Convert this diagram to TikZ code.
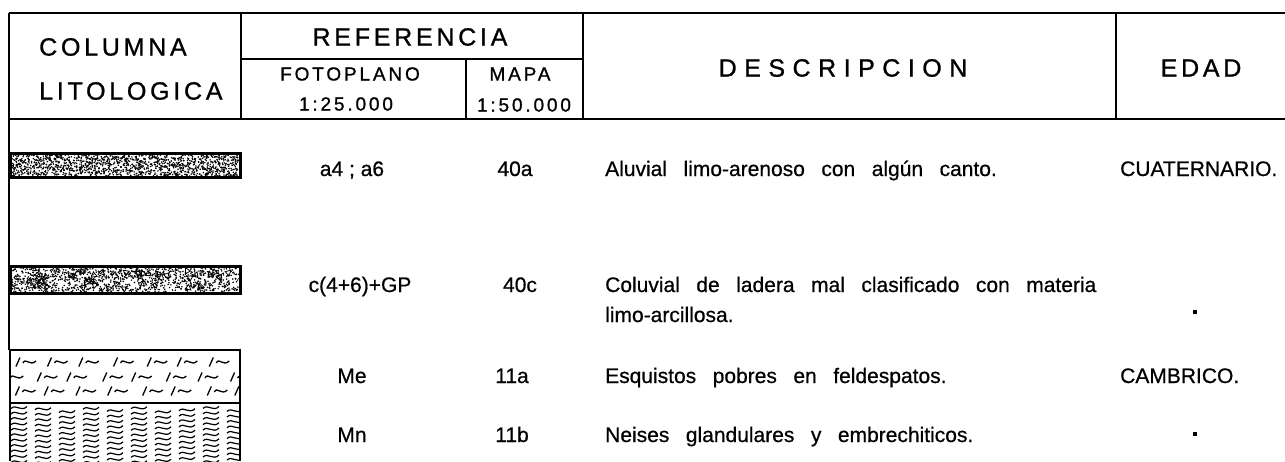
\documentclass[tikz,border=0pt]{standalone}
\usepackage{fontspec}
\setmainfont{Liberation Sans}[FakeBold=0.6]
\newfontfamily\espaciada{Liberation Sans}[LetterSpace=15,FakeBold=1]
\newfontfamily\ancha{Liberation Sans}[LetterSpace=30,FakeBold=1]
\usepackage{tikz}
\newcommand{\palabras}{\spaceskip 16.5pt plus 2pt\relax}
\tikzset{
  marco/.style={line width=2.6pt},
  divisor/.style={line width=2.2pt},
  borde/.style={line width=1.2pt},
  titulo/.style={font=\fontsize{25}{28}\selectfont\espaciada,inner sep=0pt},
  subtitulo/.style={font=\fontsize{19}{22}\selectfont\espaciada,inner sep=0pt},
  codigo/.style={font=\fontsize{21}{30}\selectfont,inner sep=0pt},
  dato/.style={font=\fontsize{21}{30}\selectfont\palabras,inner sep=0pt},
  punto/.style={fill,minimum size=4pt,inner sep=0pt}
}
\newcommand{\arena}[5]{  \foreach \k in {1,...,#5} {    \pgfmathsetmacro{\px}{#1+rnd*(#3-#1)}    \pgfmathsetmacro{\py}{#2+rnd*(#4-#2)}    \fill (\px,\py) circle (0.85pt);  }}
\newcommand{\cantos}[5]{  \foreach \k in {1,...,#5} {    \pgfmathsetmacro{\px}{#1+rnd*(#3-#1)}    \pgfmathsetmacro{\py}{#2+rnd*(#4-#2)}    \pgfmathsetmacro{\giro}{360*rnd}    \draw[line width=0.8pt,rotate around={\giro:(\px,\py)}] (\px-3,\py+2)--(\px+3,\py+2)--(\px,\py-3)--cycle;  }}
\newcommand{\esquisto}[2]{  \draw (#1,#2+4.5)--(#1+4,#2-4.5);  \draw (#1+7,#2+1) .. controls (#1+10,#2-5) and (#1+14,#2+5) .. (#1+20,#2-1);}

\begin{document}
\begin{tikzpicture}[x=1pt,y=-1pt]
  \pgfmathsetseed{11}
  \fill[white] (0,0) rectangle (1285,461);
  \useasboundingbox (0,0) rectangle (1285,461);

  % cabecera
  \draw[marco] (9,13)--(1285,13) (9,119)--(1285,119) (241,59)--(583,59);
  \draw[divisor] (9,13)--(9,119) (241,13)--(241,119) (466,59)--(466,119)
    (583,13)--(583,119) (1116,13)--(1116,119);
  \draw[borde] (9,119)--(9,350);

  \node[titulo,anchor=west] (columna) at (39,47) {COLUMNA};
  \node[titulo,anchor=west] (litologica) at (39,91) {LITOLOGICA};
  \node[titulo] (referencia) at (410,37) {REFERENCIA};
  \node[subtitulo] (fotoplano) at (350,74) {FOTOPLANO};
  \node[subtitulo] (escala1) at (346,104) {1:25.000};
  \node[subtitulo] (mapa) at (520,74) {MAPA};
  \node[subtitulo] (escala2) at (524,105) {1:50.000};
  \node[titulo,font=\fontsize{25}{28}\selectfont\ancha] (descripcion) at (843,68) {DESCRIPCION};
  \node[titulo] (edad) at (1201,68) {EDAD};

  % columna litologica
  \begin{scope}
    \fill[white] (10,153) rectangle (240,177);
    \arena{11}{154}{239}{176}{1500}
    \draw[marco,line width=3pt] (10,153) rectangle (240,177);
  \end{scope}

  \begin{scope}
    \fill[white] (10,266) rectangle (240,293);
    \arena{11}{267}{239}{292}{1100}
    \cantos{14}{270}{236}{289}{45}
    \draw[marco,line width=3pt] (10,266) rectangle (240,293);
  \end{scope}

  \begin{scope}[line width=1.3pt]
    \clip (10,350) rectangle (240,403);
    \foreach \fila/\desfase in {362/14,377/2,391/10} {
      \foreach \i in {0,...,7} {
        \pgfmathsetmacro{\xe}{\desfase+\i*32+rnd*6}
        \esquisto{\xe}{\fila}
      }
    }
  \end{scope}
  \draw[marco] (10,350)--(240,350)--(240,403)--(10,403);
  \draw[borde] (10,350)--(10,461);
  \draw[marco] (240,403)--(240,461);

  \begin{scope}
    \clip (10,403) rectangle (240,461);
    \foreach \j in {0,...,9} {
      \pgfmathsetmacro{\dy}{rnd*5}
      \foreach \k in {0,...,10} {
        \draw[line width=1.2pt] (19+\j*24-8,408+\dy+\k*5.4) .. controls (19+\j*24-3,403+\dy+\k*5.4) and (19+\j*24+2,412+\dy+\k*5.4) .. (19+\j*24+8,406+\dy+\k*5.4);
      }
    }
  \end{scope}

  % filas
  \node[codigo,anchor=base] (foto1) at (352,176) {a4 ; a6};
  \node[codigo,anchor=base] (mapa1) at (515,176) {40a};
  \node[dato,anchor=base west] (desc1) at (605,176) {Aluvial limo-arenoso con algún canto.};
  \node[codigo,anchor=base west] (edad1) at (1120,176) {CUATERNARIO.};

  \node[codigo,anchor=base] (foto2) at (360,292) {c(4+6)+GP};
  \node[codigo,anchor=base] (mapa2) at (520,292) {40c};
  \node[dato,anchor=base west] (desc2) at (605,292) {Coluvial de ladera mal clasificado con materia};
  \node[dato,anchor=base west] (desc2b) at (605,322) {limo-arcillosa.};
  \node[punto] (edad2) at (1195,312) {};

  \node[codigo,anchor=base] (foto3) at (352,383) {Me};
  \node[codigo,anchor=base] (mapa3) at (512,383) {11a};
  \node[dato,anchor=base west] (desc3) at (605,383) {Esquistos pobres en feldespatos.};
  \node[codigo,anchor=base west] (edad3) at (1120,383) {CAMBRICO.};

  \node[codigo,anchor=base] (foto4) at (352,442) {Mn};
  \node[codigo,anchor=base] (mapa4) at (512,442) {11b};
  \node[dato,anchor=base west] (desc4) at (605,442) {Neises glandulares y embrechiticos.};
  \node[punto] (edad4) at (1195,434) {};
\end{tikzpicture}
\end{document}
